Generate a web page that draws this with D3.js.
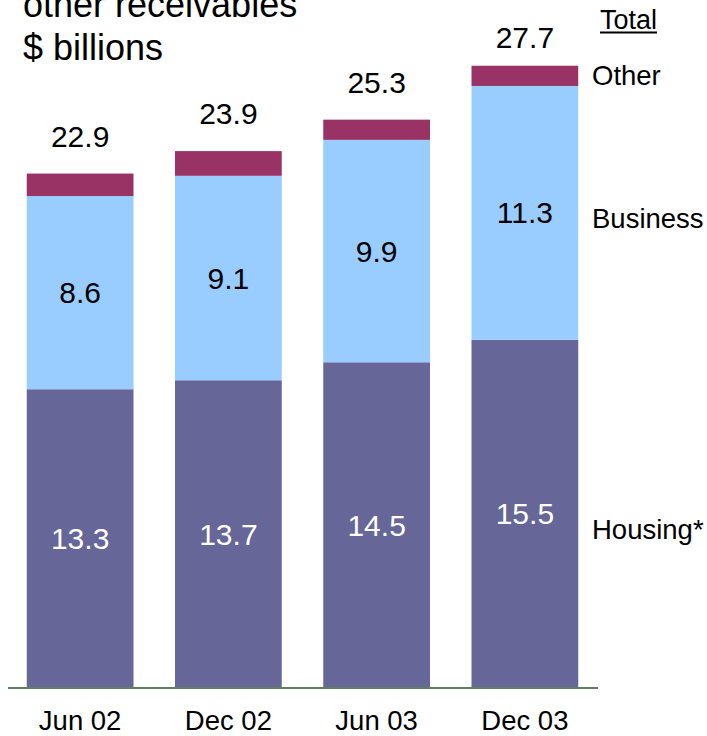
<!DOCTYPE html>
<html>
<head>
<meta charset="utf-8">
<script src="https://cdn.jsdelivr.net/npm/d3@7"></script>
<style>
  html, body { margin: 0; padding: 0; background: #fff; }
  svg { display: block; font-family: "Liberation Sans", Arial, sans-serif; }
</style>
</head>
<body>
<svg id="chart" width="707" height="736"></svg>
<script>
// Receivables by period, $ billions
const periods  = ["Jun 02", "Dec 02", "Jun 03", "Dec 03"];
const housing  = [13.3, 13.7, 14.5, 15.5];
const business = [8.6, 9.1, 9.9, 11.3];
const other    = [1.0, 1.1, 0.9, 0.9];
const totals   = [22.9, 23.9, 25.3, 27.7];
const seriesNames = ["Housing*", "Business", "Other"];
const titleLines = ["other receivables", "$ billions"];

const colors = { housing: "#666699", business: "#99ccff", other: "#993366" };

const svg = d3.select("#chart");
const baseY = 688;

const x = d3.scaleBand().domain(periods).range([6, 599]).paddingInner(0.28).paddingOuter(0.14);
const y = d3.scaleLinear().domain([0, 28]).range([baseY, 59]);

const rows = periods.map((p, i) => ({ period: p, housing: housing[i], business: business[i], other: other[i], total: totals[i] }));
const keys = ["housing", "business", "other"];
const stacked = d3.stack().keys(keys)(rows);

// stacked segments
svg.append("g").selectAll("g")
  .data(stacked)
  .join("g")
  .attr("fill", d => colors[d.key])
  .selectAll("rect")
  .data(d => d)
  .join("rect")
  .attr("x", d => x(d.data.period))
  .attr("width", x.bandwidth())
  .attr("y", d => y(d[1]))
  .attr("height", d => y(d[0]) - y(d[1]));

// values inside housing and business segments
const inner = stacked.filter(s => s.key !== "other");
svg.append("g").selectAll("g")
  .data(inner)
  .join("g")
  .attr("fill", d => d.key === "housing" ? "#ffffff" : "#000000")
  .selectAll("text")
  .data(d => d)
  .join("text")
  .attr("x", d => x(d.data.period) + x.bandwidth() / 2)
  .attr("y", d => (y(d[0]) + y(d[1])) / 2)
  .attr("dy", "0.35em")
  .attr("text-anchor", "middle")
  .attr("font-size", 30)
  .text((d, i, n) => d3.select(n[i].parentNode).datum().key === "housing" ? d.data.housing.toFixed(1) : d.data.business.toFixed(1));

// totals above bars, kept below the "Total" header
svg.append("g").selectAll("text")
  .data(rows)
  .join("text")
  .attr("x", d => x(d.period) + x.bandwidth() / 2)
  .attr("y", d => Math.max(y(d.total) - 27, 48))
  .attr("text-anchor", "middle")
  .attr("font-size", 30)
  .attr("fill", "#000")
  .text(d => d.total.toFixed(1));

// baseline
svg.append("line")
  .attr("x1", 8).attr("x2", 598)
  .attr("y1", baseY).attr("y2", baseY)
  .attr("stroke", "#5f7f5f").attr("stroke-width", 2);

// category axis labels
const xAxis = d3.axisBottom(x).tickSize(0).tickPadding(0);
const gx = svg.append("g").attr("transform", `translate(0,${baseY})`).call(xAxis);
gx.select(".domain").remove();
gx.selectAll("text")
  .attr("font-family", "Liberation Sans, Arial, sans-serif")
  .attr("font-size", 27.5)
  .attr("fill", "#000")
  .attr("dy", "0")
  .attr("y", 42);

// series labels on the right, level with the last bar
const last = stacked.map(s => s[s.length - 1]);
const legendOffset = { housing: 15, business: 5, other: 0 };
const legendX = 592;
svg.append("g").selectAll("text")
  .data(last.map((d, i) => ({ key: keys[i], mid: (y(d[0]) + y(d[1])) / 2 })))
  .join("text")
  .attr("x", legendX)
  .attr("y", d => d.mid + legendOffset[d.key])
  .attr("dy", "0.35em")
  .attr("font-size", 27.5)
  .attr("fill", "#000")
  .text(d => seriesNames[keys.indexOf(d.key)]);

// "Total" header, underlined
const hdr = svg.append("text")
  .attr("x", 628.5).attr("y", 29)
  .attr("text-anchor", "middle")
  .attr("font-size", 27)
  .attr("fill", "#000")
  .text("Total");
const bb = hdr.node().getBBox();
svg.append("line")
  .attr("x1", bb.x).attr("x2", bb.x + bb.width)
  .attr("y1", 32.5).attr("y2", 32.5)
  .attr("stroke", "#000").attr("stroke-width", 1.8);

// title
svg.append("g").selectAll("text")
  .data(titleLines)
  .join("text")
  .attr("x", 23)
  .attr("y", (d, i) => 17 + i * 43)
  .attr("font-size", 36)
  .attr("fill", "#000")
  .text(d => d);
</script>
</body>
</html>
